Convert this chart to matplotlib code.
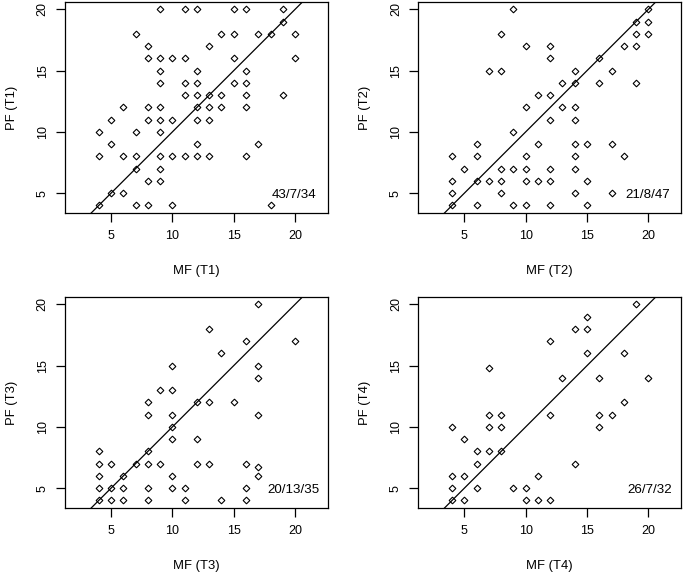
import matplotlib
matplotlib.use('Agg')
from matplotlib import pyplot as plt

plt.rcParams['font.family'] = ['Liberation Sans', 'DejaVu Sans']

# MF vs PF scores, one pair of lists per time point
mf_t1 = [9, 11, 12, 15, 16, 19, 19, 7, 14, 15, 17, 18, 20, 8, 13,
         8, 9, 10, 11, 15, 20, 9, 12, 16, 9, 11, 12, 15, 16,
         11, 12, 13, 14, 16, 19, 6, 8, 9, 12, 13, 14, 16,
         5, 8, 9, 10, 12, 13, 4, 7, 9, 5, 12, 17,
         4, 6, 7, 9, 10, 11, 12, 13, 16, 7, 9, 8, 9, 5, 6,
         4, 7, 8, 10, 18]
pf_t1 = [20, 20, 20, 20, 20, 20, 19, 18, 18, 18, 18, 18, 18, 17, 17,
         16, 16, 16, 16, 16, 16, 15, 15, 15, 14, 14, 14, 14, 14,
         13, 13, 13, 13, 13, 13, 12, 12, 12, 12, 12, 12, 12,
         11, 11, 11, 11, 11, 11, 10, 10, 10, 9, 9, 9,
         8, 8, 8, 8, 8, 8, 8, 8, 8, 7, 7, 6, 6, 5, 5,
         4, 4, 4, 4, 4]

mf_t2 = [9, 20, 19, 20, 8, 19, 20, 10, 12, 18, 19, 12, 16,
         7, 8, 14, 17, 13, 14, 16, 19, 11, 12, 10, 13, 14, 12, 14, 9,
         6, 11, 14, 15, 17, 4, 6, 10, 14, 18,
         5, 8, 9, 10, 12, 14, 4, 6, 7, 8, 10, 11, 12, 15,
         4, 8, 14, 17, 4, 6, 9, 10, 12, 15]
pf_t2 = [20, 20, 19, 19, 18, 18, 18, 17, 17, 17, 17, 16, 16,
         15, 15, 15, 15, 14, 14, 14, 14, 13, 13, 12, 12, 12, 11, 11, 10,
         9, 9, 9, 9, 9, 8, 8, 8, 8, 8,
         7, 7, 7, 7, 7, 7, 6, 6, 6, 6, 6, 6, 6, 6,
         5, 5, 5, 5, 4, 4, 4, 4, 4, 4]

mf_t3 = [17, 13, 16, 20, 14, 10, 17, 17, 9, 10, 8, 12, 13, 15,
         8, 10, 17, 10, 10, 12, 4, 8, 4, 5, 7, 8, 9, 12, 13, 16, 17,
         4, 6, 10, 17, 4, 5, 6, 8, 10, 11, 16, 4, 5, 6, 8, 11, 14, 16]
pf_t3 = [20, 18, 17, 17, 16, 15, 15, 14, 13, 13, 12, 12, 12, 12,
         11, 11, 11, 10, 9, 9, 8, 8, 7, 7, 7, 7, 7, 7, 7, 7, 6.7,
         6, 6, 6, 6, 5, 5, 5, 5, 5, 5, 5, 4, 4, 4, 4, 4, 4, 4]

mf_t4 = [19, 15, 14, 15, 12, 15, 18, 7, 13, 16, 20, 18,
         7, 8, 12, 16, 17, 4, 7, 8, 16, 5, 6, 7, 8, 6, 14,
         4, 5, 11, 4, 6, 9, 10, 4, 5, 10, 11, 12]
pf_t4 = [20, 19, 18, 18, 17, 16, 16, 14.8, 14, 14, 14, 12,
         11, 11, 11, 11, 11, 10, 10, 10, 10, 9, 8, 8, 8, 7, 7,
         6, 6, 6, 5, 5, 5, 5, 4, 4, 4, 4, 4]

panel_labels = ['T1', 'T2', 'T3', 'T4']
counts = ['43/7/34', '21/8/47', '20/13/35', '26/7/32']
ticks = [5, 10, 15, 20]

W, H = 685, 576
fig = plt.figure(figsize=(W / 100, H / 100), dpi=100)

# axes boxes in pixels: left, top, width, height
boxes = [(65, 1.5, 262.7, 211.8), (418.3, 1.5, 262.7, 211.8),
         (65, 296.5, 262.7, 211.8), (418.3, 296.5, 262.7, 211.8)]
text_x = [0.955, 0.958, 0.97, 0.965]

data = [(mf_t1, pf_t1), (mf_t2, pf_t2), (mf_t3, pf_t3), (mf_t4, pf_t4)]

for i, ((mf, pf), (l, t, w, h)) in enumerate(zip(data, boxes)):
    ax = fig.add_axes([l / W, 1 - (t + h) / H, w / W, h / H])
    ax.plot(mf, pf, linestyle='none', marker='D', markersize=3.4,
            markerfacecolor='white', markeredgecolor='black', markeredgewidth=0.8)
    ax.axline((4, 4), slope=1, color='black', linewidth=0.9)
    ax.set_xlim(1.25, 22.66)
    ax.set_ylim(3.36, 20.64)
    ax.set_xticks(ticks)
    ax.set_yticks(ticks)
    ax.tick_params(length=6.3, width=0.9, pad=5.5, labelsize=9, colors='black')
    for lab in ax.get_yticklabels():
        lab.set_rotation(90)
        lab.set_va('center')
    for sp in ax.spines.values():
        sp.set_linewidth(0.9)
    ax.set_xlabel('MF (%s)' % panel_labels[i], fontsize=9.4, va='center')
    ax.set_ylabel('PF (%s)' % panel_labels[i], fontsize=9.4, va='center')
    ax.xaxis.set_label_coords(0.5, -0.274)
    ax.yaxis.set_label_coords(-0.202, 0.5)
    ax.text(text_x[i], 0.086, counts[i], transform=ax.transAxes,
            ha='right', va='center', fontsize=9.6)

fig.savefig('out.png', dpi=100)
